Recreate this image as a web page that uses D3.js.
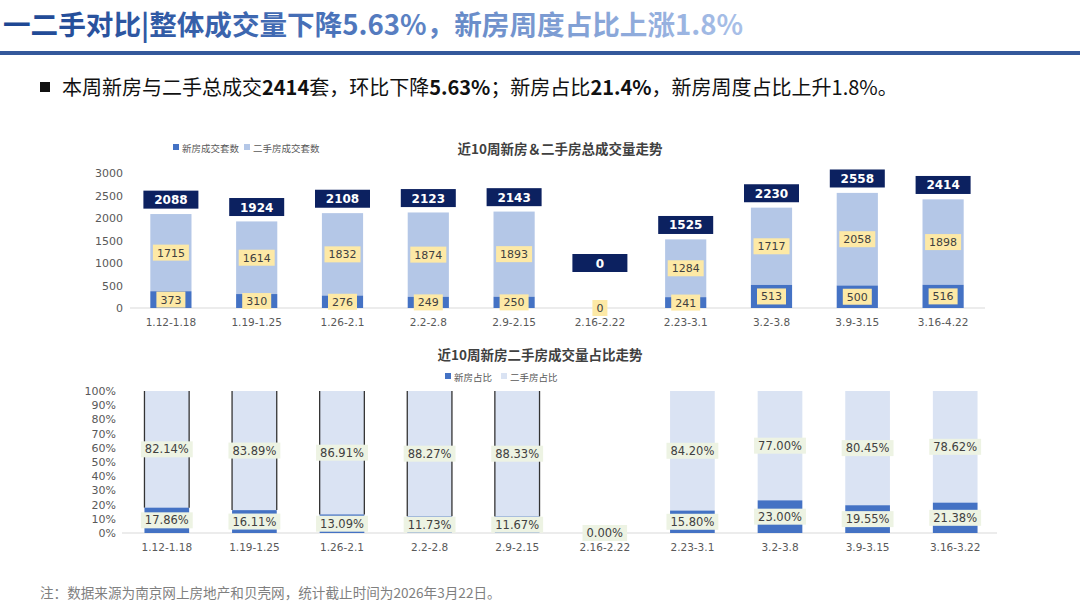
<!DOCTYPE html>
<html>
<head>
<meta charset="utf-8">
<script src="https://cdn.jsdelivr.net/npm/d3@7"></script>
<style>
  body { margin: 0; background: #fff; }
  svg { display: block; }
  .cjk { font-family: "Noto Sans CJK SC", "Noto Sans", sans-serif; }
  .num { font-family: "DejaVu Sans", Verdana, sans-serif; }
</style>
</head>
<body>
<div id="chart"></div>
<script>
// weekly data
var weeks = ["1.12-1.18", "1.19-1.25", "1.26-2.1", "2.2-2.8", "2.9-2.15", "2.16-2.22", "2.23-3.1", "3.2-3.8", "3.9-3.15", "3.16-4.22"];
var weeksPct = ["1.12-1.18", "1.19-1.25", "1.26-2.1", "2.2-2.8", "2.9-2.15", "2.16-2.22", "2.23-3.1", "3.2-3.8", "3.9-3.15", "3.16-3.22"];
var newUnits = [373, 310, 276, 249, 250, 0, 241, 513, 500, 516];
var usedUnits = [1715, 1614, 1832, 1874, 1893, 0, 1284, 1717, 2058, 1898];
var totals = [2088, 1924, 2108, 2123, 2143, 0, 1525, 2230, 2558, 2414];
var newShare = [17.86, 16.11, 13.09, 11.73, 11.67, 0, 15.80, 23.00, 19.55, 21.38];
var usedShare = [82.14, 83.89, 86.91, 88.27, 88.33, 0, 84.20, 77.00, 80.45, 78.62];
var unitTicks = [0, 500, 1000, 1500, 2000, 2500, 3000];
var pctTicks = [0, 10, 20, 30, 40, 50, 60, 70, 80, 90, 100];

var width = 1080, height = 608;
var colNew = "#4472c4", colUsed = "#b4c7e7", colUsedLight = "#dae3f3";

var svg = d3.select("#chart").append("svg")
  .attr("width", width)
  .attr("height", height)
  .attr("viewBox", "0 0 " + width + " " + height);

// ---- page header ----
var grad = svg.append("defs").append("linearGradient")
  .attr("id", "titleGrad")
  .attr("gradientUnits", "userSpaceOnUse")
  .attr("x1", 0).attr("x2", 745).attr("y1", 0).attr("y2", 0);
grad.append("stop").attr("offset", "0%").attr("stop-color", "#1c4592");
grad.append("stop").attr("offset", "45%").attr("stop-color", "#4a73ba");
grad.append("stop").attr("offset", "100%").attr("stop-color", "#a9c0e8");

svg.append("text")
  .attr("class", "cjk")
  .attr("x", 3).attr("y", 35)
  .attr("font-size", 27.6)
  .attr("font-weight", "bold")
  .attr("fill", "url(#titleGrad)")
  .text("一二手对比|整体成交量下降5.63%，新房周度占比上涨1.8%");

svg.append("rect")
  .attr("x", 0).attr("y", 51)
  .attr("width", width).attr("height", 4)
  .attr("fill", "#34589b");

svg.append("rect")
  .attr("x", 40).attr("y", 82)
  .attr("width", 10).attr("height", 10)
  .attr("fill", "#111");

var bullet = svg.append("text")
  .attr("class", "cjk")
  .attr("x", 62).attr("y", 95)
  .attr("font-size", 20)
  .attr("fill", "#111");
[["本周新房与二手总成交", false], ["2414", true], ["套，环比下降", false], ["5.63%", true],
 ["；新房占比", false], ["21.4%", true], ["，新房周度占比上升1.8%。", false]]
  .forEach(function (p) {
    bullet.append("tspan").attr("font-weight", p[1] ? "bold" : "normal").text(p[0]);
  });

// ---- chart 1: stacked units ----
var x1 = d3.scaleBand().domain(weeks).range([128, 986]).paddingInner(0.52).paddingOuter(0.26);
var y1 = d3.scaleLinear().domain([0, 3000]).range([308, 173]);

var c1 = svg.append("g").attr("class", "chart-units");

c1.append("text")
  .attr("class", "cjk")
  .attr("x", 560).attr("y", 154)
  .attr("text-anchor", "middle")
  .attr("font-size", 13.5)
  .attr("font-weight", "bold")
  .attr("fill", "#404040")
  .text("近10周新房＆二手房总成交量走势");

var leg1 = c1.append("g").attr("class", "legend");
[["新房成交套数", colNew, 173], ["二手房成交套数", colUsed, 244]].forEach(function (d) {
  leg1.append("rect").attr("x", d[2]).attr("y", 144).attr("width", 6).attr("height", 6).attr("fill", d[1]);
  leg1.append("text").attr("class", "cjk").attr("x", d[2] + 9).attr("y", 151.5)
    .attr("font-size", 9.5).attr("fill", "#595959").text(d[0]);
});

c1.append("g")
  .selectAll("text")
  .data(unitTicks)
  .enter().append("text")
    .attr("class", "num")
    .attr("x", 123)
    .attr("y", function (d) { return y1(d) + 4; })
    .attr("text-anchor", "end")
    .attr("font-size", 11)
    .attr("fill", "#595959")
    .text(function (d) { return d; });

c1.append("line")
  .attr("x1", 130).attr("x2", 985)
  .attr("y1", y1(0)).attr("y2", y1(0))
  .attr("stroke", "#d9d9d9");

c1.append("g").selectAll("rect.used")
  .data(weeks)
  .enter().append("rect")
    .attr("class", "used")
    .attr("x", function (d) { return x1(d); })
    .attr("y", function (d, i) { return y1(newUnits[i] + usedUnits[i]); })
    .attr("width", x1.bandwidth())
    .attr("height", function (d, i) { return y1(newUnits[i]) - y1(newUnits[i] + usedUnits[i]); })
    .attr("fill", colUsed);

c1.append("g").selectAll("rect.new")
  .data(weeks)
  .enter().append("rect")
    .attr("class", "new")
    .attr("x", function (d) { return x1(d); })
    .attr("y", function (d, i) { return y1(newUnits[i]); })
    .attr("width", x1.bandwidth())
    .attr("height", function (d, i) { return y1(0) - y1(newUnits[i]); })
    .attr("fill", colNew);

// value tags, centred in their segment
function tag(g, cx, cy, txt, fill, minW, h, fs) {
  var t = g.append("text")
    .attr("class", "num")
    .attr("x", cx).attr("y", cy + fs * 0.36)
    .attr("text-anchor", "middle")
    .attr("font-size", fs)
    .attr("fill", "#404040")
    .text(txt);
  var w = Math.max(minW, t.node().getComputedTextLength() + 8);
  g.insert("rect", function () { return t.node(); })
    .attr("x", cx - w / 2).attr("y", cy - h / 2)
    .attr("width", w).attr("height", h)
    .attr("fill", fill);
}

var tags1 = c1.append("g");
weeks.forEach(function (w, i) {
  var cx = x1(w) + x1.bandwidth() / 2;
  if (usedUnits[i] > 0)
    tag(tags1, cx, y1(newUnits[i] + usedUnits[i] / 2), usedUnits[i], "#fde9a6", 0, 16, 11);
  tag(tags1, cx, y1(newUnits[i] / 2), newUnits[i], "#fde9a6", 0, 16, 11);
});

// navy total boxes above each bar
var totals1 = c1.append("g");
weeks.forEach(function (w, i) {
  var cx = x1(w) + x1.bandwidth() / 2;
  var cy = y1(Math.max(totals[i] + 320, 1000));
  totals1.append("rect")
    .attr("x", cx - 27.5).attr("y", cy - 9)
    .attr("width", 55).attr("height", 18)
    .attr("fill", "#0c2160");
  totals1.append("text")
    .attr("class", "num")
    .attr("x", cx).attr("y", cy + 4.5)
    .attr("text-anchor", "middle")
    .attr("font-size", 12)
    .attr("font-weight", "bold")
    .attr("fill", "#fff")
    .text(totals[i]);
});

c1.append("g").selectAll("text")
  .data(weeks)
  .enter().append("text")
    .attr("class", "num")
    .attr("x", function (d) { return x1(d) + x1.bandwidth() / 2; })
    .attr("y", 326)
    .attr("text-anchor", "middle")
    .attr("font-size", 10.5)
    .attr("fill", "#595959")
    .text(function (d) { return d; });

// ---- chart 2: share of units ----
var x2 = d3.scaleBand().domain(weeksPct).range([123, 999]).paddingInner(0.49).paddingOuter(0.245);
var y2 = d3.scaleLinear().domain([0, 100]).range([533, 391]);

var c2 = svg.append("g").attr("class", "chart-share");

c2.append("text")
  .attr("class", "cjk")
  .attr("x", 540).attr("y", 360)
  .attr("text-anchor", "middle")
  .attr("font-size", 13.5)
  .attr("font-weight", "bold")
  .attr("fill", "#404040")
  .text("近10周新房二手房成交量占比走势");

var leg2 = c2.append("g").attr("class", "legend");
[["新房占比", colNew, 445], ["二手房占比", colUsedLight, 501]].forEach(function (d) {
  leg2.append("rect").attr("x", d[2]).attr("y", 373).attr("width", 6).attr("height", 6).attr("fill", d[1]);
  leg2.append("text").attr("class", "cjk").attr("x", d[2] + 9).attr("y", 380.5)
    .attr("font-size", 9.5).attr("fill", "#595959").text(d[0]);
});

c2.append("g").selectAll("text")
  .data(pctTicks)
  .enter().append("text")
    .attr("class", "num")
    .attr("x", 116)
    .attr("y", function (d) { return y2(d) + 4; })
    .attr("text-anchor", "end")
    .attr("font-size", 11)
    .attr("fill", "#595959")
    .text(function (d) { return d + "%"; });

c2.append("line")
  .attr("x1", 122).attr("x2", 997)
  .attr("y1", y2(0)).attr("y2", y2(0))
  .attr("stroke", "#d9d9d9");

c2.append("g").selectAll("rect.used")
  .data(weeksPct)
  .enter().append("rect")
    .attr("class", "used")
    .attr("x", function (d) { return x2(d); })
    .attr("y", function (d, i) { return y2(newShare[i] + usedShare[i]); })
    .attr("width", x2.bandwidth())
    .attr("height", function (d, i) { return y2(newShare[i]) - y2(newShare[i] + usedShare[i]); })
    .attr("fill", colUsedLight);

c2.append("g").selectAll("rect.new")
  .data(weeksPct)
  .enter().append("rect")
    .attr("class", "new")
    .attr("x", function (d) { return x2(d); })
    .attr("y", function (d, i) { return y2(newShare[i]); })
    .attr("width", x2.bandwidth())
    .attr("height", function (d, i) { return y2(0) - y2(newShare[i]); })
    .attr("fill", colNew);

// dark edge strokes seen on the first five bars
var edges = c2.append("g");
weeksPct.slice(0, 5).forEach(function (w, i) {
  [x2(w), x2(w) + x2.bandwidth()].forEach(function (ex) {
    edges.append("line")
      .attr("x1", ex).attr("x2", ex)
      .attr("y1", y2(100)).attr("y2", y2(newShare[i]))
      .attr("stroke", "#333").attr("stroke-width", 1.3);
  });
});

var tags2 = c2.append("g");
weeksPct.forEach(function (w, i) {
  var cx = x2(w) + x2.bandwidth() / 2;
  if (usedShare[i] > 0)
    tag(tags2, cx, y2(newShare[i] + usedShare[i] / 2), usedShare[i].toFixed(2) + "%", "#edf3e3", x2.bandwidth(), 16, 11.5);
  tag(tags2, cx, y2(newShare[i] / 2), newShare[i].toFixed(2) + "%", "#edf3e3", newShare[i] > 0 ? x2.bandwidth() : 0, 16, 11.5);
});

c2.append("g").selectAll("text")
  .data(weeksPct)
  .enter().append("text")
    .attr("class", "num")
    .attr("x", function (d) { return x2(d) + x2.bandwidth() / 2; })
    .attr("y", 551)
    .attr("text-anchor", "middle")
    .attr("font-size", 10.5)
    .attr("fill", "#595959")
    .text(function (d) { return d; });

// ---- footnote ----
svg.append("text")
  .attr("class", "cjk")
  .attr("x", 40).attr("y", 598)
  .attr("font-size", 13.6)
  .attr("fill", "#7f7f7f")
  .text("注：数据来源为南京网上房地产和贝壳网，统计截止时间为2026年3月22日。");
</script>
</body>
</html>
